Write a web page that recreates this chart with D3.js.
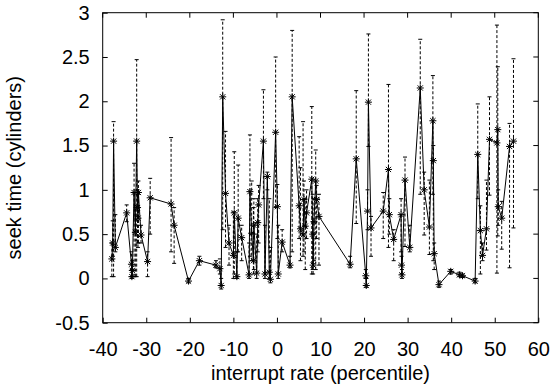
<!DOCTYPE html>
<html>
<head>
<meta charset="utf-8">
<script src="https://cdn.jsdelivr.net/npm/d3@7"></script>
<style>
html, body { margin: 0; padding: 0; background: #fff; overflow: hidden; }
svg { display: block; }
text { font-family: "Liberation Sans", Arial, sans-serif; }
</style>
</head>
<body>
<svg></svg>
<script>
// interrupt rate (percentile) -> seek time (cylinders), with error bars
const rate = [-37.9, -37.7, -37.5, -37.1, -34.5, -33.4, -33.3, -33.2, -32.8, -32.5,
	-32.2, -32.0, -31.9, -31.8, -31.2, -29.7, -29.1, -24.3, -23.6, -20.3,
	-17.8, -14.0, -13.1, -12.8, -12.45, -11.8, -11.0, -10.0, -9.8, -9.2,
	-8.9, -8.1, -6.4, -6.2, -5.8, -5.4, -5.3, -4.65, -4.4, -4.2,
	-3.1, -2.75, -2.2, -1.75, -1.5, -0.3, 0.1, 0.3, 1.2, 3.0,
	3.5, 5.1, 5.4, 6.0, 6.2, 6.5, 6.8, 8.0, 8.2, 8.3,
	8.5, 8.9, 9.1, 9.65, 16.8, 18.2, 20.4, 20.5, 20.8, 21.0,
	21.6, 24.4, 25.6, 25.8, 26.8, 28.5, 28.6, 28.7, 29.4, 30.5,
	32.9, 33.8, 35.0, 35.8, 35.9, 36.1, 37.2, 39.9, 41.9, 42.6,
	45.5, 46.1, 46.7, 47.2, 48.1, 48.8, 50.5, 50.7, 50.8, 51.6,
	53.4, 54.3];
const seek = [0.22, 0.40, 1.55, 0.35, 0.74, 0.16, 0.02, 0.09, 0.97, 0.52,
	1.55, 0.80, 0.68, 0.97, 0.49, 0.19, 0.91, 0.84, 0.60, -0.03,
	0.20, 0.15, 0.11, -0.08, 2.05, 0.96, 0.40, 0.26, 0.74, 0.02,
	0.68, 0.46, 0.04, 0.98, 0.51, 0.20, 0.60, 0.06, 0.63, 0.83,
	1.55, 0.05, 1.15, 0.07, -0.01, 1.65, 0.81, 0.05, 0.41, 0.15,
	2.05, 0.82, 0.56, 0.49, 0.89, 0.59, 0.74, 1.12, 0.50, 0.15,
	0.64, 1.10, 0.89, 0.70, 0.16, 1.35, 0.03, -0.08, 0.76, 1.99,
	0.57, 0.76, 1.23, 0.72, 0.44, 0.72, 0.15, 0.04, 1.11, 0.35,
	2.15, 1.00, 0.58, 1.78, 1.33, 0.28, -0.07, 0.08, 0.04, 0.03,
	-0.03, 1.40, 0.54, 0.26, 0.56, 1.57, 1.53, 1.68, 0.81, 0.68,
	1.49, 1.55];
const seekLo = [0.02, 0.25, 0.02, 0.30, 0.64, 0.02, 0.00, 0.02, 0.02, 0.02,
	0.02, 0.40, 0.35, 0.40, 0.40, 0.02, 0.50, 0.30, 0.17, -0.05,
	0.15, 0.12, 0.05, -0.12, 0.55, 0.35, 0.15, 0.00, 0.05, 0.00,
	0.30, 0.20, 0.00, 0.25, 0.20, 0.05, 0.10, 0.00, 0.30, 0.40,
	0.90, 0.00, 1.00, 0.00, -0.05, 0.80, 0.45, 0.00, 0.30, 0.12,
	0.30, 0.45, 0.20, 0.25, 0.30, 0.10, 0.45, 0.05, 0.10, 0.05,
	0.20, 0.10, 0.45, 0.15, 0.12, 0.62, 0.00, -0.10, 0.55, 1.49,
	0.25, 0.45, 0.35, 0.50, 0.20, 0.30, 0.05, 0.00, 0.36, 0.30,
	0.95, 0.49, 0.27, 0.95, 0.20, 0.10, -0.10, 0.05, 0.02, 0.01,
	-0.05, 0.90, 0.05, 0.20, 0.32, 0.94, 0.06, 0.48, 0.60, 0.33,
	0.12, 0.57];
const seekHi = [0.40, 0.65, 1.77, 0.72, 0.83, 0.30, 0.10, 0.20, 1.30, 0.80,
	2.47, 1.00, 0.95, 1.10, 0.60, 0.30, 1.13, 1.59, 0.80, 0.00,
	0.25, 0.20, 0.22, 0.00, 2.92, 1.66, 0.60, 0.75, 1.43, 0.30,
	1.28, 0.60, 0.40, 1.62, 1.10, 0.80, 0.90, 0.50, 0.90, 1.05,
	2.13, 0.60, 1.20, 0.90, 0.35, 2.50, 1.06, 0.60, 0.55, 0.25,
	2.80, 1.60, 1.25, 1.77, 1.10, 0.90, 1.00, 1.94, 0.95, 0.50,
	0.90, 1.45, 1.05, 0.95, 0.25, 2.12, 0.10, 0.00, 1.00, 2.76,
	0.70, 0.97, 2.19, 0.90, 0.55, 0.90, 0.25, 0.10, 1.37, 0.60,
	2.70, 1.20, 1.11, 2.29, 1.50, 0.40, -0.03, 0.10, 0.07, 0.05,
	0.00, 1.97, 0.82, 0.40, 1.11, 2.05, 2.86, 2.39, 1.00, 0.87,
	1.75, 2.48];
const xTicks = [-40, -30, -20, -10, 0, 10, 20, 30, 40, 50, 60];
const yTicks = [-0.5, 0, 0.5, 1, 1.5, 2, 2.5, 3];

const svg = d3.select('svg')
	.attr('width', 556)
	.attr('height', 387);

const width = +svg.attr('width'),
	height = +svg.attr('height');

const margin = { top: 12.7, right: 17.7, bottom: 64.3, left: 102.7 },
	innerWidth = width - margin.left - margin.right,
	innerHeight = height - margin.top - margin.bottom,
	tick = 5;

const data = rate.map((r, i) => ({ x: r, y: seek[i], lo: seekLo[i], hi: seekHi[i] }));

const xScale = d3.scaleLinear().domain([-40, 60]).range([0, innerWidth]);
const yScale = d3.scaleLinear().domain([-0.5, 3]).range([innerHeight, 0]);

// plain labels like the original: "3", "-0.5" with an ascii hyphen
const fmt = d => String(d);

const style = sel => {
	sel.select('.domain').remove();
	sel.selectAll('line').attr('stroke', '#000');
	sel.selectAll('text').attr('font-size', 20).attr('fill', '#000');
};

const g = svg.append('g')
	.attr('transform', `translate(${margin.left}, ${margin.top})`);

// axes, ticks pointing inward, mirrored on top and right
g.append('g')
	.attr('transform', `translate(0, ${innerHeight})`)
	.call(d3.axisBottom(xScale).tickValues(xTicks).tickFormat(fmt)
		.tickSizeInner(-tick).tickSizeOuter(0).tickPadding(19))
	.call(style);
g.append('g')
	.call(d3.axisLeft(yScale).tickValues(yTicks).tickFormat(fmt)
		.tickSizeInner(-tick).tickSizeOuter(0).tickPadding(13))
	.call(style);

g.append('g')
	.selectAll('line')
	.data(xTicks)
	.enter().append('line')
	.attr('x1', d => xScale(d))
	.attr('x2', d => xScale(d))
	.attr('y1', 0)
	.attr('y2', tick)
	.attr('stroke', '#000');
g.append('g')
	.selectAll('line')
	.data(yTicks)
	.enter().append('line')
	.attr('x1', innerWidth - tick)
	.attr('x2', innerWidth)
	.attr('y1', d => yScale(d))
	.attr('y2', d => yScale(d))
	.attr('stroke', '#000');

g.append('rect')
	.attr('width', innerWidth)
	.attr('height', innerHeight)
	.attr('fill', 'none')
	.attr('stroke', '#000')
	.attr('stroke-width', 1);

// error bars
const bars = g.append('g').attr('stroke', '#000').attr('stroke-width', 1);
bars.selectAll('.err')
	.data(data)
	.enter().append('line')
	.attr('x1', d => xScale(d.x))
	.attr('x2', d => xScale(d.x))
	.attr('y1', d => yScale(d.lo))
	.attr('y2', d => yScale(d.hi))
	.attr('stroke-dasharray', '3,2');
['lo', 'hi'].forEach(k => {
	bars.selectAll('.cap-' + k)
		.data(data)
		.enter().append('line')
		.attr('x1', d => xScale(d.x) - 2)
		.attr('x2', d => xScale(d.x) + 2)
		.attr('y1', d => yScale(d[k]))
		.attr('y2', d => yScale(d[k]));
});

// line
const lineGenerator = d3.line()
	.x(d => xScale(d.x))
	.y(d => yScale(d.y));

g.append('path')
	.attr('fill', 'none')
	.attr('stroke', '#000')
	.attr('stroke-width', 1)
	.attr('d', lineGenerator(data));

// star markers
const s = 3.5, t = 2.6;
g.selectAll('.pt')
	.data(data)
	.enter().append('path')
	.attr('transform', d => `translate(${xScale(d.x)}, ${yScale(d.y)})`)
	.attr('d', `M${-s},0H${s}M0,${-s}V${s}M${-t},${-t}L${t},${t}M${-t},${t}L${t},${-t}`)
	.attr('stroke', '#000')
	.attr('stroke-width', 1)
	.attr('fill', 'none');

// axis titles
svg.append('text')
	.attr('x', margin.left + innerWidth / 2)
	.attr('y', 380)
	.attr('text-anchor', 'middle')
	.attr('font-size', 20)
	.text('interrupt rate (percentile)');

svg.append('text')
	.attr('transform', `translate(21, ${margin.top + innerHeight / 2}) rotate(-90)`)
	.attr('text-anchor', 'middle')
	.attr('font-size', 20)
	.text('seek time (cylinders)');
</script>
</body>
</html>
